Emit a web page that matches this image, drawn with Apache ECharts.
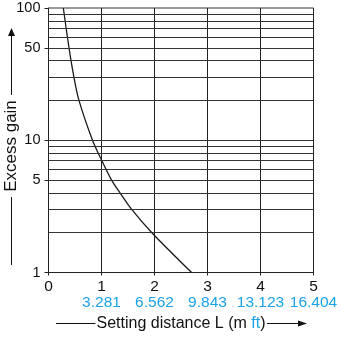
<!DOCTYPE html>
<html>
<head>
<meta charset="utf-8">
<script src="https://cdn.jsdelivr.net/npm/echarts@6/dist/echarts.min.js"></script>
<style>html,body{margin:0;padding:0;background:#fff;}#c{width:342px;height:338px;}</style>
</head>
<body>
<div id="c"></div>
<script>
const xTicks = [0, 1, 2, 3, 4, 5];
const ftLabels = ['', '3.281', '6.562', '9.843', '13.123', '16.404'];
const yTickValues = [1, 5, 10, 50, 100];
const gridValues = [2, 3, 4, 5, 6, 7, 8, 9, 10, 20, 30, 40, 50, 60, 70, 80, 90];
const distM = [0.28, 0.387, 0.48, 0.575, 0.83, 1.0, 1.19, 1.35, 1.57, 1.95, 2.70];
const gain  = [100, 50, 30, 20, 10, 7.1, 5, 4, 3, 2, 1];

const FONT = "'Liberation Sans', Arial, sans-serif";
const BLUE = '#1aa3e8';
const chart = echarts.init(document.getElementById('c'), null, {renderer: 'canvas'});
chart.setOption({
  animation: false,
  grid: {left: 48.5, right: 28.5, top: 8, bottom: 65.5, show: true, borderColor: '#333', borderWidth: 1},
  xAxis: {
    type: 'value', min: 0, max: 5, interval: 1,
    axisLine: {lineStyle: {color: '#222', width: 1}},
    axisTick: {show: true, length: 3, lineStyle: {color: '#222'}},
    splitLine: {show: true, lineStyle: {color: '#222', width: 1}},
    axisLabel: {
      margin: 6,
      fontFamily: FONT,
      formatter: function (v) {
        const i = xTicks.indexOf(v);
        let s = '{m|' + v + '}';
        if (i >= 0 && ftLabels[i]) s += '\n{f|' + ftLabels[i] + '}';
        return s;
      },
      rich: {
        m: {color: '#111', fontSize: 15.5, lineHeight: 16, fontFamily: FONT},
        f: {color: BLUE, fontSize: 15.5, lineHeight: 16, fontFamily: FONT}
      }
    },
    name: '{a|Setting distance L (m }{b|ft}{a|)}',
    nameLocation: 'middle', nameGap: 42,
    nameTextStyle: {
      rich: {
        a: {color: '#111', fontSize: 16, fontFamily: FONT},
        b: {color: BLUE, fontSize: 16, fontFamily: FONT}
      }
    }
  },
  yAxis: {
    type: 'log', logBase: 10, min: 1, max: 100,
    axisLine: {show: true, lineStyle: {color: '#222', width: 1}},
    axisTick: {show: true, length: 4, customValues: yTickValues, lineStyle: {color: '#222'}},
    splitLine: {show: false},
    minorSplitLine: {show: false},
    axisLabel: {customValues: yTickValues, margin: 8, color: '#111', fontSize: 14.5, fontFamily: FONT}
  },
  graphic: [
    {type: 'text', x: 11.5, y: 146, rotation: Math.PI / 2,
     style: {text: 'Excess gain', font: '17px ' + FONT, fill: '#111', align: 'center', verticalAlign: 'middle'}},
    {type: 'line', shape: {x1: 11.5, y1: 95, x2: 11.5, y2: 35}, style: {stroke: '#111', lineWidth: 1}},
    {type: 'polygon', shape: {points: [[11.5, 28], [8, 36], [15, 36]]}, style: {fill: '#111'}},
    {type: 'line', shape: {x1: 11.5, y1: 197, x2: 11.5, y2: 265}, style: {stroke: '#111', lineWidth: 1}},
    {type: 'line', shape: {x1: 56, y1: 323.5, x2: 95.5, y2: 323.5}, style: {stroke: '#111', lineWidth: 1}},
    {type: 'line', shape: {x1: 267, y1: 323.5, x2: 300, y2: 323.5}, style: {stroke: '#111', lineWidth: 1}},
    {type: 'polygon', shape: {points: [[307, 323.5], [298, 320.5], [298, 326.5]]}, style: {fill: '#111'}}
  ],
  series: [{
    type: 'line',
    data: distM.map((d, i) => [d, gain[i]]),
    smooth: 0.3,
    symbol: 'none',
    lineStyle: {color: '#1a1a1a', width: 1.3},
    markLine: {
      silent: true, symbol: 'none', label: {show: false},
      lineStyle: {color: '#333', width: 1, type: 'solid'},
      data: gridValues.map(v => ({yAxis: v}))
    }
  }]
});
</script>
</body>
</html>
